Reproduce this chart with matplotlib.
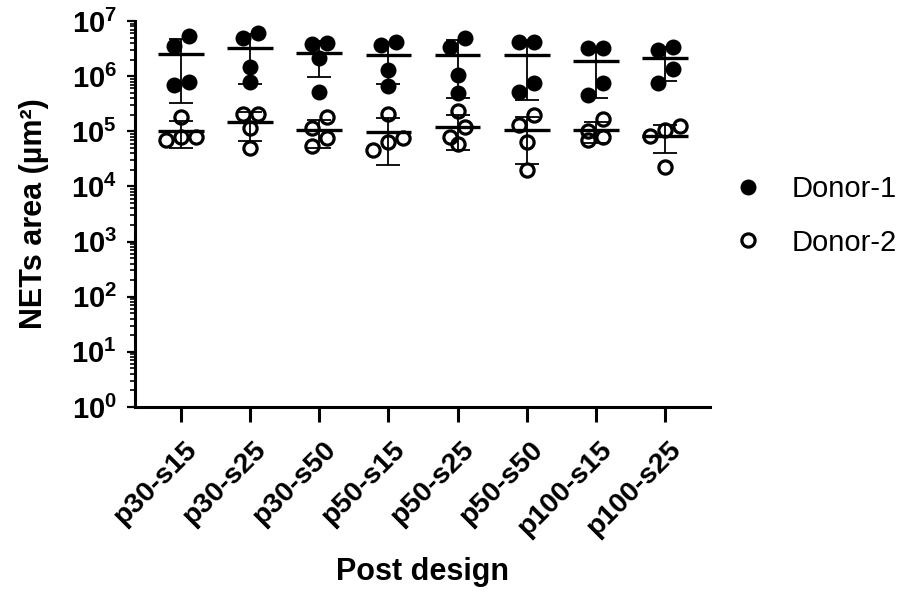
import numpy as np
import matplotlib
matplotlib.use("Agg")
import matplotlib.pyplot as plt
from matplotlib.lines import Line2D
from matplotlib.ticker import LogLocator, NullFormatter
from matplotlib.transforms import ScaledTranslation

# Values (NETs area, um^2), four wells per donor
categories = ["p30-s15", "p30-s25", "p30-s50", "p50-s15",
              "p50-s25", "p50-s50", "p100-s15", "p100-s25"]

donor1 = [
    [5.3e6, 3.5e6, 7.9e5, 6.9e5],
    [6.0e6, 4.85e6, 1.48e6, 7.7e5],
    [4.05e6, 3.9e6, 2.1e6, 5.2e5],
    [4.2e6, 3.7e6, 1.29e6, 6.5e5],
    [4.9e6, 3.4e6, 1.05e6, 4.9e5],
    [4.2e6, 4.2e6, 7.6e5, 5.2e5],
    [3.2e6, 3.2e6, 7.4e5, 4.6e5],
    [3.4e6, 3.0e6, 1.33e6, 7.4e5],
]

donor2 = [
    [1.8e5, 7.9e4, 7.9e4, 6.9e4],
    [2.1e5, 2.1e5, 1.13e5, 4.9e4],
    [1.84e5, 1.13e5, 7.5e4, 5.4e4],
    [2.1e5, 7.5e4, 6.5e4, 4.6e4],
    [2.3e5, 1.2e5, 7.9e4, 5.8e4],
    [2.0e5, 1.3e5, 6.5e4, 2.0e4],
    [1.65e5, 1.02e5, 7.8e4, 6.9e4],
    [1.25e5, 1.05e5, 8.2e4, 2.3e4],
]

series_names = ["Donor-1", "Donor-2"]

plt.rcParams.update({
    "font.family": "Liberation Sans",
    "font.weight": "bold",
    "mathtext.fontset": "custom",
    "mathtext.rm": "Liberation Sans:bold",
    "mathtext.it": "Liberation Sans:bold",
    "mathtext.bf": "Liberation Sans:bold",
})


def swarm_offsets(ax, xc, values, diam_px=14.5, step_px=15.0):
    """Prism-like scatter: points close in y share a row and are spread sideways."""
    pix_y = np.array([ax.transData.transform((xc, v))[1] for v in values])
    px_per_cat = ax.transData.transform((1, 1))[0] - ax.transData.transform((0, 1))[0]
    order = np.argsort(-pix_y)
    offsets = np.zeros(len(values))
    rows = []
    for i in order:
        if rows and abs(pix_y[rows[-1][0]] - pix_y[i]) < diam_px:
            rows[-1].append(i)
        else:
            rows.append([i])
    for row in rows:
        row = sorted(row, key=lambda k: values[k])
        n = len(row)
        for j, k in enumerate(row):
            offsets[k] = (j - (n - 1) / 2) * step_px / px_per_cat
    return offsets


def main():
    fig = plt.figure(figsize=(9.07, 5.94), dpi=100)
    ax = fig.add_axes([0.1488, 0.3148, 0.634, 0.6498])

    ax.set_yscale("log")
    ax.set_ylim(1, 1e7)
    ax.set_xlim(-0.666, 7.65)

    x = np.arange(len(categories))
    styles = [dict(mfc="black", mec="black", ms=11.5, mew=0),
              dict(mfc="none", mec="black", ms=9.5, mew=2.3)]

    for data, st in zip([donor1, donor2], styles):
        for xi, vals in zip(x, data):
            vals = np.array(vals)
            off = swarm_offsets(ax, xi, vals)
            ax.plot(xi + off, vals, "o", linestyle="none", zorder=3, **st)
            m = vals.mean()
            sd = vals.std(ddof=1)
            lo = max(m - sd, 1.0)
            ax.errorbar([xi], [m], yerr=[[m - lo], [sd]], fmt="none",
                        ecolor="black", elinewidth=1.3, capsize=8.5,
                        capthick=1.3, zorder=4)
            ax.plot([xi - 0.33, xi + 0.33], [m, m], color="black",
                    lw=2.4, solid_capstyle="butt", zorder=4)

    # axes styling (Prism look)
    for side in ["top", "right"]:
        ax.spines[side].set_visible(False)
    for side in ["left", "bottom"]:
        ax.spines[side].set_linewidth(2.2)

    ax.yaxis.set_major_locator(LogLocator(base=10, numticks=10))
    ax.yaxis.set_minor_locator(LogLocator(base=10, subs=np.arange(2, 10), numticks=20))
    ax.yaxis.set_minor_formatter(NullFormatter())
    ax.tick_params(axis="y", which="major", length=6, width=1.6, labelsize=21, pad=7)
    ax.tick_params(axis="y", which="minor", length=3.5, width=1.2)

    ax.set_xticks(x)
    ax.set_xticklabels(categories, rotation=45, ha="right", va="top",
                       rotation_mode="anchor", fontsize=20.5)
    ax.tick_params(axis="x", which="major", length=11, width=2.2, pad=10)
    shift = ScaledTranslation(3 / 100, 0, fig.dpi_scale_trans)
    for lab in ax.get_xticklabels():
        lab.set_transform(lab.get_transform() + shift)

    ax.set_ylabel("NETs area (µm²)", fontsize=22, fontweight="bold")
    ax.yaxis.set_label_coords(-0.149, 0.5)
    ax.set_xlabel("Post design", fontsize=22, fontweight="bold")
    ax.xaxis.set_label_coords(0.5, -0.388)

    handles = [Line2D([], [], marker="o", linestyle="none", color="black",
                      **styles[0]),
               Line2D([], [], marker="o", linestyle="none", color="black",
                      **styles[1])]
    fig.legend(handles, series_names, loc="center left",
               bbox_to_anchor=(0.809, 0.6367), frameon=False,
               borderpad=0, borderaxespad=0, handlelength=1.0,
               handletextpad=1.0, labelspacing=0.88,
               prop={"family": "Liberation Sans", "weight": "normal", "size": 21})

    fig.savefig("out.png", dpi=100)


if __name__ == "__main__":
    main()
